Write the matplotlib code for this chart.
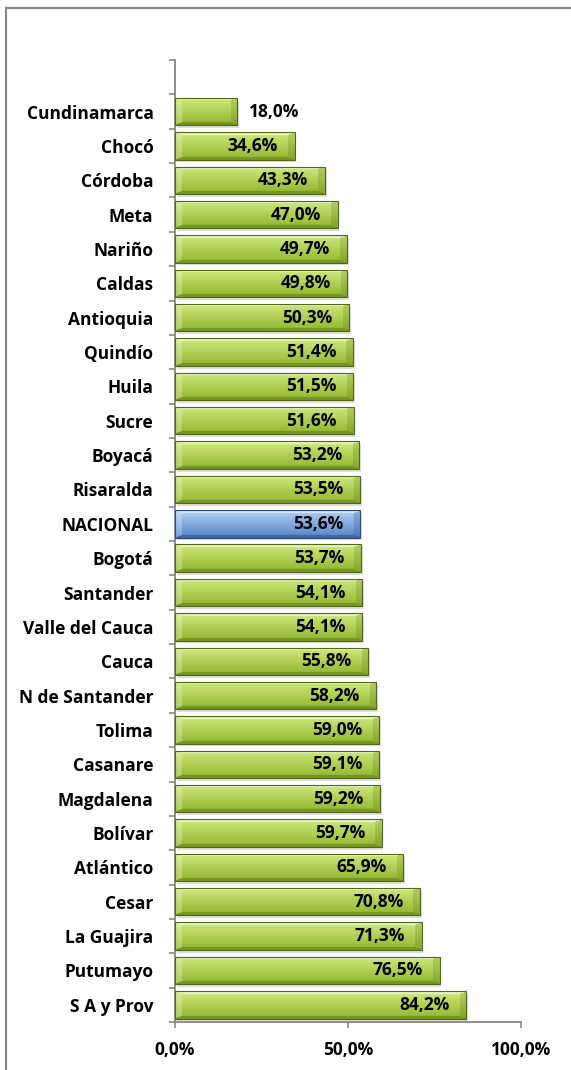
import numpy as np
import matplotlib
matplotlib.use("Agg")
import matplotlib.pyplot as plt
from matplotlib.patches import Rectangle
from matplotlib.lines import Line2D
from matplotlib.ticker import FixedLocator

categories = ["Cundinamarca", "Chocó", "Córdoba", "Meta", "Nariño", "Caldas",
              "Antioquia", "Quindío", "Huila", "Sucre", "Boyacá", "Risaralda",
              "NACIONAL", "Bogotá", "Santander", "Valle del Cauca", "Cauca",
              "N de Santander", "Tolima", "Casanare", "Magdalena", "Bolívar",
              "Atlántico", "Cesar", "La Guajira", "Putumayo", "S A y Prov"]
values = [18.0, 34.6, 43.3, 47.0, 49.7, 49.8, 50.3, 51.4, 51.5, 51.6, 53.2,
          53.5, 53.6, 53.7, 54.1, 54.1, 55.8, 58.2, 59.0, 59.1, 59.2, 59.7,
          65.9, 70.8, 71.3, 76.5, 84.2]
highlight = "NACIONAL"
outside_labels = ["Cundinamarca"]
x_ticks = [0, 50, 100]
x_tick_labels = ["0,0%", "50,0%", "100,0%"]

FONT = "Open Sans"
FS = 12.5

W, H = 571, 1070
fig = plt.figure(figsize=(W / 100, H / 100), dpi=100)
fig.patch.set_facecolor("white")
ax = fig.add_axes([175 / W, 1 - 1022 / H, (521 - 175) / W, (1022 - 60) / H])

green = dict(top=(0.82, 0.92, 0.50), bot=(0.56, 0.71, 0.17),
             hi=(0.95, 0.98, 0.85), low=(0.38, 0.48, 0.10), edge="#526816")
blue = dict(top=(0.70, 0.82, 0.96), bot=(0.33, 0.51, 0.77),
            hi=(0.92, 0.95, 0.99), low=(0.19, 0.31, 0.53), edge="#2c4c7c")


def bar_image(c, length_px, height_px):
    N = int(round(height_px))
    M = max(4, int(round(length_px)))
    yy = (np.arange(N) + 0.5)[:, None] * np.ones((1, M))
    xx = np.ones((N, 1)) * (np.arange(M) + 0.5)[None, :]
    t = yy / N
    top = np.array(c["top"])
    bot = np.array(c["bot"])
    img = top[None, None, :] * (1 - t[..., None]) + bot[None, None, :] * t[..., None]
    b_tb = 3.0
    b_lr = 7.0
    hi = np.array(c["hi"])
    low = np.array(c["low"])
    s_top = yy / b_tb
    s_bot = (N - yy) / b_tb
    s_left = xx / b_lr
    s_right = (M - xx) / b_lr
    smin = np.minimum(np.minimum(s_top, s_bot), np.minimum(s_left, s_right))
    inside = smin < 1
    top_f = inside & (s_top == smin)
    bot_f = inside & (s_bot == smin) & ~top_f
    left_f = inside & (s_left == smin) & ~top_f & ~bot_f
    right_f = inside & (s_right == smin) & ~top_f & ~bot_f & ~left_f
    img[top_f] = img[top_f] * 0.35 + hi * 0.65
    img[bot_f] = img[bot_f] * 0.45 + low * 0.55
    img[left_f] = img[left_f] * 0.70 + hi * 0.30
    img[right_f] = img[right_f] * 0.75 + low * 0.25
    return np.clip(img, 0, 1)


bh = 0.8
ax_w_px = 521 - 175
slot_px = (1022 - 60) / (len(categories) + 1)
for i, (cat, v) in enumerate(zip(categories, values)):
    c = blue if cat == highlight else green
    ax.add_patch(Rectangle((0.5, i - bh / 2 + 0.08), v, bh, facecolor="#000000",
                           alpha=0.13, edgecolor="none", zorder=1))
    rect = Rectangle((0, i - bh / 2), v, bh, facecolor="none", edgecolor=c["edge"],
                     lw=0.8, zorder=3)
    ax.add_patch(rect)
    img = bar_image(c, v / 100 * ax_w_px, bh * slot_px)
    im = ax.imshow(img, extent=(0, v, i + bh / 2, i - bh / 2),
                   origin="upper", aspect="auto", zorder=2, interpolation="bilinear")
    im.set_clip_path(rect)
    lab = f"{v:.1f}%".replace(".", ",")
    if cat in outside_labels:
        ax.annotate(lab, (v, i), xytext=(8.5, 0), textcoords="offset points",
                    ha="left", va="center", fontsize=FS, fontweight="bold",
                    family=FONT, color="black", zorder=5)
    else:
        ax.annotate(lab, (v, i), xytext=(-12, 0), textcoords="offset points",
                    ha="right", va="center", fontsize=FS, fontweight="bold",
                    family=FONT, color="black", zorder=5)

ax.set_xlim(0, 100)
ax.set_ylim(len(categories) - 0.5, -1.5)

ax.set_yticks(range(len(categories)))
ax.set_yticklabels(categories, fontsize=FS, fontweight="bold", family=FONT)
ax.tick_params(axis="y", which="major", length=0, pad=15.5)
ax.yaxis.set_minor_locator(FixedLocator(np.arange(-1.5, len(categories), 1.0)))
ax.tick_params(axis="y", which="minor", length=4, width=1.2, color="#868686",
               direction="out")

ax.set_xticks(x_ticks)
ax.set_xticklabels(x_tick_labels, fontsize=FS, fontweight="bold", family=FONT)
ax.tick_params(axis="x", which="major", length=4, width=1.2, color="#868686",
               direction="out", pad=10)

for s in ["top", "right"]:
    ax.spines[s].set_visible(False)
for s in ["left", "bottom"]:
    ax.spines[s].set_color("#868686")
    ax.spines[s].set_linewidth(1.3)
ax.set_facecolor("none")

fig.add_artist(Line2D([6 / W, 1], [1 - 8 / H, 1 - 8 / H], color="#868686", lw=1.5,
                      transform=fig.transFigure))
fig.add_artist(Line2D([6 / W, 6 / W], [0, 1 - 8 / H], color="#868686", lw=1.5,
                      transform=fig.transFigure))

fig.savefig("out.png", dpi=100)
